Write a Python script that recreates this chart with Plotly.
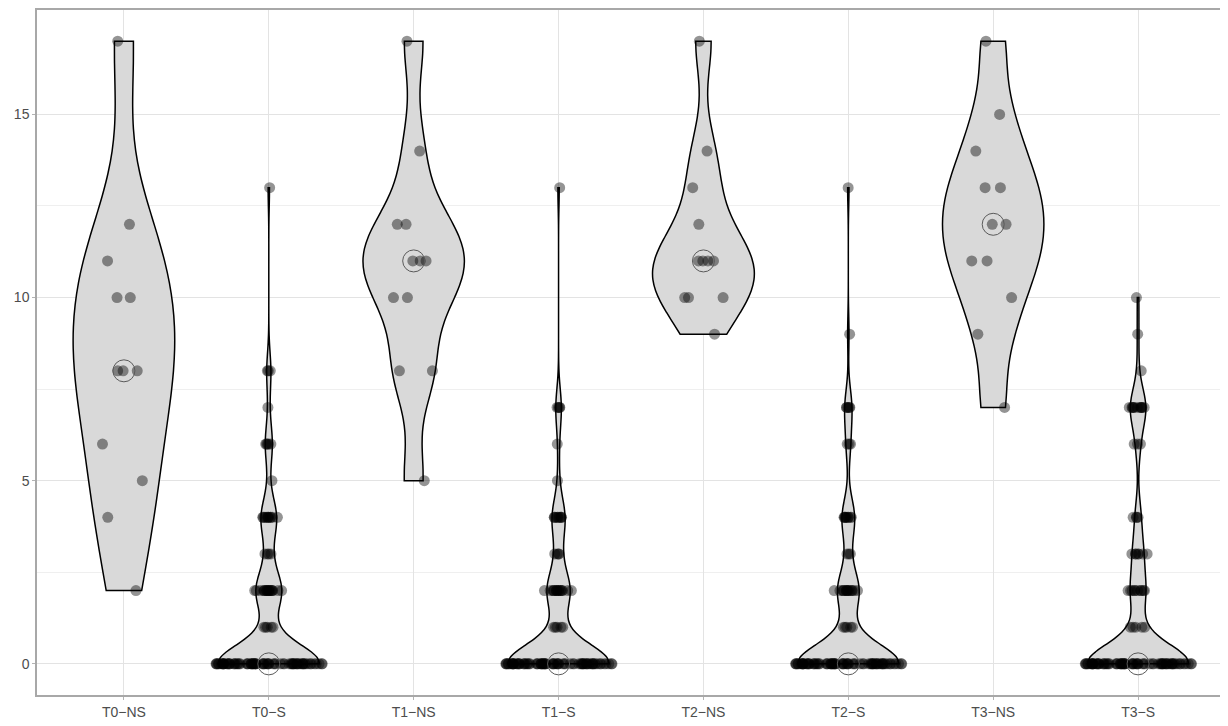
import numpy as np
import plotly.graph_objects as go

categories = ["T0\u2212NS", "T0\u2212S", "T1\u2212NS", "T1\u2212S",
              "T2\u2212NS", "T2\u2212S", "T3\u2212NS", "T3\u2212S"]

t0_ns = [17, 12, 11, 10, 10, 8, 8, 8, 6, 5, 4, 2]
t1_ns = [17, 14, 12, 12, 11, 11, 11, 10, 10, 8, 8, 5]
t2_ns = [17, 14, 13, 12, 11, 11, 11, 11, 10, 10, 10, 9]
t3_ns = [17, 15, 14, 13, 13, 12, 12, 11, 11, 10, 9, 7]

t0_s_values = [0, 1, 2, 3, 4, 5, 6, 7, 8, 13]
t0_s_counts = [75, 5, 18, 4, 11, 1, 5, 1, 3, 1]
t1_s_values = [0, 1, 2, 3, 4, 5, 6, 7, 13]
t1_s_counts = [75, 5, 16, 4, 9, 1, 1, 4, 1]
t2_s_values = [0, 1, 2, 3, 4, 6, 7, 9, 13]
t2_s_counts = [75, 5, 15, 3, 9, 3, 5, 1, 1]
t3_s_values = [0, 1, 2, 3, 4, 6, 7, 8, 9, 10]
t3_s_counts = [75, 5, 10, 7, 4, 3, 11, 1, 1, 1]

groups = [
    t0_ns, list(np.repeat(t0_s_values, t0_s_counts)),
    t1_ns, list(np.repeat(t1_s_values, t1_s_counts)),
    t2_ns, list(np.repeat(t2_s_values, t2_s_counts)),
    t3_ns, list(np.repeat(t3_s_values, t3_s_counts)),
]


def nrd0(x):
    x = np.asarray(x, dtype=float)
    sd = np.std(x, ddof=1)
    q75, q25 = np.percentile(x, [75, 25])
    lo = min(sd, (q75 - q25) / 1.34)
    if lo == 0:
        lo = sd if sd > 0 else 1.0
    return 0.9 * lo * len(x) ** (-0.2)


point_marker = dict(color="black", opacity=0.42, size=11, line=dict(width=0))

fig = go.Figure()
# violin outlines (KDE computed by plotly)
for cat, vals in zip(categories, groups):
    is_s = not cat.endswith("NS")
    fig.add_trace(go.Violin(
        x=[cat] * len(vals), y=vals, name=cat,
        spanmode="hard", scalemode="width", width=0.7,
        bandwidth=nrd0(vals),
        fillcolor="#d9d9d9", line=dict(color="black", width=1.5),
        points=False if is_s else "all", pointpos=0, jitter=0.5,
        marker=point_marker,
        box_visible=False, meanline_visible=False, showlegend=False,
        hoverinfo="y",
    ))

# jittered points for the S groups: zeros spread wide, the rest narrower
for cat, vals in zip(categories, groups):
    if cat.endswith("NS"):
        continue
    vals = np.asarray(vals)
    for subset, w in ((vals[vals == 0], 0.74), (vals[vals != 0], 0.2)):
        fig.add_trace(go.Box(
            x=[cat] * len(subset), y=subset, name=cat,
            boxpoints="all", jitter=1.0, pointpos=0, width=w,
            fillcolor="rgba(0,0,0,0)", line=dict(color="rgba(0,0,0,0)", width=0),
            marker=point_marker, showlegend=False, hoverinfo="y",
        ))

fig.add_trace(go.Scatter(
    x=categories, y=[float(np.median(g)) for g in groups], mode="markers",
    marker=dict(symbol="circle-open", size=22, color="#5a5a5a", line=dict(width=1)),
    showlegend=False, hoverinfo="skip",
))

# the page body has an 8px default margin, so the figure is sized to fit
fig.update_layout(
    width=1220, height=718,
    margin=dict(l=29, r=3, t=0, b=31),
    paper_bgcolor="white", plot_bgcolor="white",
    font=dict(family="Liberation Sans, Arial, sans-serif", size=14, color="#4d4d4d"),
    violinmode="overlay", boxmode="overlay",
    xaxis=dict(
        type="category", categoryorder="array", categoryarray=categories,
        range=[-0.6, 7.6], showgrid=True, gridcolor="#e3e3e3", gridwidth=1,
        showline=True, mirror=True, linecolor="#a8a8a8", linewidth=1.5,
        ticks="outside", ticklen=3, tickcolor="#b3b3b3", zeroline=False,
        tickfont=dict(size=14, color="#4d4d4d"),
    ),
    yaxis=dict(
        range=[-0.85, 17.85], tickvals=[0, 5, 10, 15], showgrid=True,
        gridcolor="#e3e3e3", gridwidth=1,
        minor=dict(tickvals=[2.5, 7.5, 12.5], showgrid=True, gridcolor="#efefef", gridwidth=0.6),
        showline=True, mirror=True, linecolor="#a8a8a8", linewidth=1.5,
        ticks="outside", ticklen=3, tickcolor="#b3b3b3", zeroline=False,
        tickfont=dict(size=14, color="#4d4d4d"),
    ),
)

fig.write_html("out.html")
